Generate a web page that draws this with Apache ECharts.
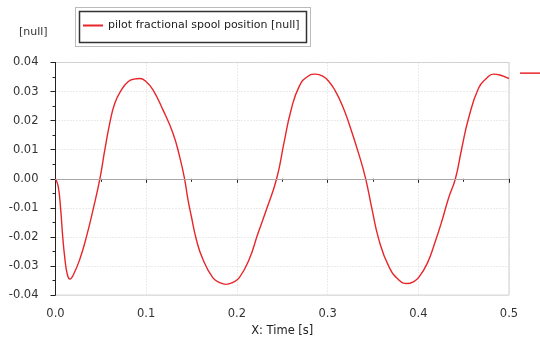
<!DOCTYPE html>
<html>
<head>
<meta charset="utf-8">
<script src="https://cdn.jsdelivr.net/npm/echarts@6/dist/echarts.min.js"></script>
<style>
  html, body { margin: 0; padding: 0; background: #fff; }
  #chart { width: 540px; height: 342px; }
</style>
</head>
<body>
<div id="chart"></div>
<script>
// Pilot spool response: time [s] and fractional position [null]
var timeS = [
  0.000, 0.003, 0.0057, 0.0079, 0.0104, 0.013, 0.0159, 0.0196, 0.0269, 0.0343, 0.0415,
  0.0489, 0.0544, 0.0599, 0.0654, 0.0727, 0.080, 0.0865, 0.0929, 0.1000, 0.1075,
  0.1185, 0.1295, 0.1368, 0.1423, 0.146, 0.1497, 0.1552, 0.1624, 0.1734, 0.181,
  0.188, 0.195, 0.2027, 0.2137, 0.2230, 0.232, 0.2438, 0.252, 0.2596, 0.2687,
  0.2780, 0.2870, 0.2950, 0.3016, 0.3080, 0.3160, 0.3236, 0.3346, 0.3420, 0.3490,
  0.3566, 0.3676, 0.3786, 0.3877, 0.3940, 0.4005, 0.4100, 0.4189, 0.4265, 0.4335,
  0.4409, 0.4480, 0.4555, 0.4665, 0.4750, 0.4830, 0.4900, 0.4975, 0.5000
];
var position = [
  0.0000, -0.0026, -0.0105, -0.0197, -0.0276, -0.0328, -0.0345, -0.0331, -0.0276, -0.0197, -0.0105,
  0.0000, 0.0100, 0.0192, 0.0260, 0.0306, 0.0334, 0.0343, 0.0345, 0.0334, 0.0306,
  0.0237, 0.0157, 0.0077, 0.0000, -0.0071, -0.0128, -0.0208, -0.0276, -0.0340, -0.0357,
  -0.0363, -0.0357, -0.0340, -0.0276, -0.0190, -0.0111, 0.0000, 0.0125, 0.0235, 0.0318,
  0.0352, 0.0360, 0.0352, 0.0334, 0.0305, 0.0254, 0.0190, 0.0083, 0.0000, -0.0105,
  -0.0210, -0.0302, -0.0348, -0.0360, -0.0355, -0.0339, -0.0290, -0.0214, -0.0140, -0.0065,
  0.0000, 0.0106, 0.0209, 0.0312, 0.0345, 0.0360, 0.0357, 0.0348, 0.0345
];

var xTicks = [0, 0.1, 0.2, 0.3, 0.4, 0.5];
var yTicks = [-0.04, -0.03, -0.02, -0.01, 0.00, 0.01, 0.02, 0.03, 0.04];
var seriesName = 'pilot fractional spool position [null]';
var yUnit = '[null]';
var xTitle = 'X: Time [s]';

var lineColor = '#e8262a';
var font = 'Tahoma, "DejaVu Sans", sans-serif';

var chart = echarts.init(document.getElementById('chart'), null, { renderer: 'canvas' });

var points = timeS.map(function (t, i) { return [t, position[i]]; });

function frameGraphics(extra) {
  var g = [
    { type: 'rect', silent: true, shape: { x: 75.5, y: 7.5, width: 235, height: 39 },
      style: { fill: 'none', stroke: '#777', lineWidth: 1, lineDash: [1, 1] } },
    { type: 'rect', silent: true, shape: { x: 79.5, y: 11.5, width: 227, height: 31 },
      style: { fill: '#fff', stroke: '#333', lineWidth: 1.5 }, z: -1 },
    { type: 'text', left: 19, top: 27,
      style: { text: yUnit, font: '11px ' + font, fill: '#333' } }
  ];
  return extra ? g.concat(extra) : g;
}

chart.setOption({
  animation: false,
  grid: { left: 55.5, right: 31, top: 62.5, bottom: 46, show: true, borderColor: '#cfcfcf', borderWidth: 1 },
  legend: {
    left: 79, top: 11,
    padding: [9, 8, 9, 4],
    itemWidth: 20, itemHeight: 2, itemGap: 8,
    textStyle: { fontFamily: font, fontSize: 11, color: '#222' },
    data: [{ name: seriesName, icon: 'rect' }]
  },
  xAxis: {
    type: 'value', min: xTicks[0], max: xTicks[xTicks.length - 1], interval: 0.1,
    name: xTitle, nameLocation: 'middle', nameGap: 26,
    nameTextStyle: { fontFamily: font, fontSize: 11.5, color: '#222' },
    axisLine: { lineStyle: { color: '#222', width: 1 } },
    axisTick: { show: true, length: 4, lineStyle: { color: '#222' } },
    minorTick: { show: true, splitNumber: 2, length: 3, lineStyle: { color: '#222' } },
    axisLabel: { fontFamily: font, fontSize: 11.5, color: '#333', margin: 13,
      formatter: function (v) { return v.toFixed(1); } },
    splitLine: { show: true, lineStyle: { color: '#d6d6d6', type: [1, 2] } }
  },
  yAxis: {
    type: 'value', min: yTicks[0], max: yTicks[yTicks.length - 1], interval: 0.01,
    axisLine: { show: true, lineStyle: { color: '#222', width: 1 } },
    axisTick: { show: true, length: 5, lineStyle: { color: '#222' } },
    minorTick: { show: true, splitNumber: 2, length: 3, lineStyle: { color: '#222' } },
    axisLabel: { fontFamily: font, fontSize: 11.5, color: '#333', margin: 17,
      formatter: function (v) { return (Math.abs(v) < 1e-9 ? 0 : v).toFixed(2); } },
    splitLine: { show: true, lineStyle: { color: '#d6d6d6', type: [1, 2] } }
  },
  graphic: frameGraphics(),
  series: [{
    name: seriesName,
    type: 'line',
    data: points,
    smooth: 0.5,
    showSymbol: false,
    lineStyle: { color: lineColor, width: 1.4 },
    itemStyle: { color: lineColor },
    markLine: {
      silent: true, symbol: 'none', label: { show: false },
      lineStyle: { color: '#a8a8a8', type: 'solid', width: 1 },
      data: [{ yAxis: 0 }]
    }
  }]
});

// Small level indicator to the right of the plot at the series peak
var peak = Math.max.apply(null, position);
var py = chart.convertToPixel({ yAxisIndex: 0 }, peak) - 1;
chart.setOption({
  graphic: frameGraphics([
    { type: 'line', silent: true, shape: { x1: 520, y1: py, x2: 540, y2: py },
      style: { stroke: lineColor, lineWidth: 1.5 } }
  ])
}, { replaceMerge: ['graphic'] });
</script>
</body>
</html>
